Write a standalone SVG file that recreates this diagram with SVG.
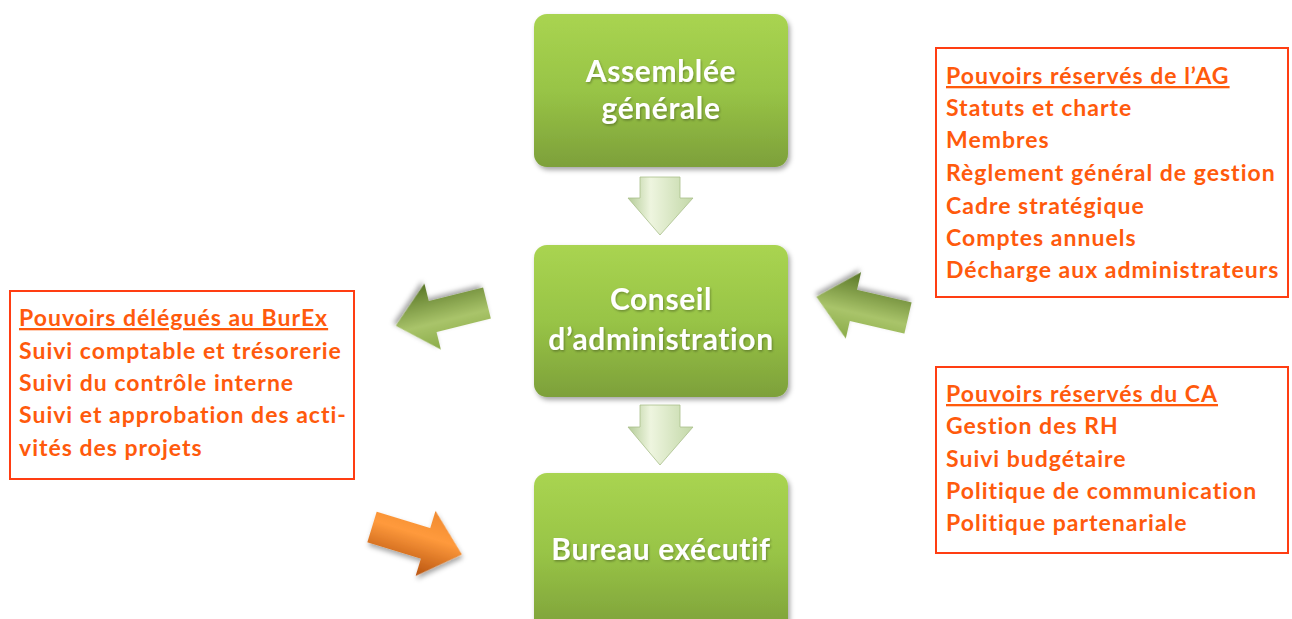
<svg xmlns="http://www.w3.org/2000/svg" width="1292" height="619" viewBox="0 0 1292 619">
<defs>
<linearGradient id="gBox" x1="0" y1="0" x2="0" y2="1">
<stop offset="0" stop-color="#a9d451"/>
<stop offset="0.5" stop-color="#98c446"/>
<stop offset="1" stop-color="#7da03a"/>
</linearGradient>
<linearGradient id="gDown" x1="0" y1="0" x2="1" y2="0">
<stop offset="0" stop-color="#b4cc98"/>
<stop offset="0.35" stop-color="#eef5df"/>
<stop offset="1" stop-color="#c3d8a8"/>
</linearGradient>
<linearGradient id="gGreen" x1="0" y1="0" x2="0" y2="1">
<stop offset="0" stop-color="#8aab48"/>
<stop offset="0.4" stop-color="#a9c46a"/>
<stop offset="1" stop-color="#587526"/>
</linearGradient>
<linearGradient id="gOrange" x1="0" y1="0" x2="0" y2="1">
<stop offset="0" stop-color="#f08a30"/>
<stop offset="0.4" stop-color="#ff9a3c"/>
<stop offset="1" stop-color="#b85410"/>
</linearGradient>
<filter id="sh" x="-10%" y="-10%" width="120%" height="125%">
<feDropShadow dx="2" dy="3" stdDeviation="2.5" flood-color="#000" flood-opacity="0.35"/>
</filter>
<filter id="tsh" x="-5%" y="-20%" width="110%" height="140%">
<feDropShadow dx="1" dy="1.5" stdDeviation="1" flood-color="#000" flood-opacity="0.3"/>
</filter>
<path id="blk" d="M0,-16 L56,-16 L56,-34 L94,0 L56,34 L56,16 L0,16 Z"/>
</defs>
<style>
.node rect{fill:url(#gBox);filter:url(#sh)}
.nt{font-family:"Lato","Open Sans",sans-serif;font-weight:700;font-size:30px;letter-spacing:0.6px;fill:#fff;text-anchor:middle;filter:url(#tsh)}
.box{fill:#fff;stroke:#ff3d12;stroke-width:2}
.ot{font-family:"Lato","Open Sans",sans-serif;font-weight:700;font-size:23px;letter-spacing:1px;fill:#ff5a0c}
.u{text-decoration:underline}
.down{fill:url(#gDown);stroke:#a9bf8c;stroke-width:0.8}
</style>
<rect width="1292" height="619" fill="#fff"/>
<g id="node-ag" class="node">
<rect x="534" y="14" width="254" height="153" rx="13"/>
<text class="nt" x="661" y="82">Assemblée</text>
<text class="nt" x="661" y="119">générale</text>
</g>
<g id="node-ca" class="node">
<rect x="534" y="245" width="254" height="152" rx="13"/>
<text class="nt" x="661" y="310">Conseil</text>
<text class="nt" x="661" y="350">d’administration</text>
</g>
<g id="node-be" class="node">
<rect x="534" y="473" width="254" height="160" rx="13"/>
<text class="nt" x="661" y="560">Bureau exécutif</text>
</g>
<g id="connectors">
<path class="down" d="M640,177 L680,177 L680,198 L693,198 L660,235 L628,198 L640,198 Z"/>
<path class="down" d="M640,405 L680,405 L680,427 L693,427 L660,465 L628,427 L640,427 Z"/>
<use href="#blk" fill="url(#gGreen)" filter="url(#sh)" transform="translate(487,303) rotate(166)"/>
<use href="#blk" fill="url(#gGreen)" filter="url(#sh)" transform="translate(908,318) rotate(-167)"/>
<use href="#blk" fill="url(#gOrange)" filter="url(#sh)" transform="translate(372,527) rotate(17)"/>
</g>
<g id="box-ag">
<rect class="box" x="936" y="48" width="352" height="249"/>
<text class="ot u" x="946" y="84">Pouvoirs réservés de l’AG</text>
<text class="ot" x="946" y="116">Statuts et charte</text>
<text class="ot" x="946" y="148">Membres</text>
<text class="ot" x="946" y="181">Règlement général de gestion</text>
<text class="ot" x="946" y="214">Cadre stratégique</text>
<text class="ot" x="946" y="246">Comptes annuels</text>
<text class="ot" x="946" y="278">Décharge aux administrateurs</text>
</g>
<g id="box-burex">
<rect class="box" x="10" y="291" width="344" height="188"/>
<text class="ot u" x="19" y="326">Pouvoirs délégués au BurEx</text>
<text class="ot" x="19" y="359">Suivi comptable et trésorerie</text>
<text class="ot" x="19" y="391">Suivi du contrôle interne</text>
<text class="ot" x="19" y="423">Suivi et approbation des acti-</text>
<text class="ot" x="19" y="456">vités des projets</text>
</g>
<g id="box-ca">
<rect class="box" x="936" y="367" width="352" height="186"/>
<text class="ot u" x="946" y="402">Pouvoirs réservés du CA</text>
<text class="ot" x="946" y="434">Gestion des RH</text>
<text class="ot" x="946" y="467">Suivi budgétaire</text>
<text class="ot" x="946" y="499">Politique de communication</text>
<text class="ot" x="946" y="531">Politique partenariale</text>
</g>
</svg>
